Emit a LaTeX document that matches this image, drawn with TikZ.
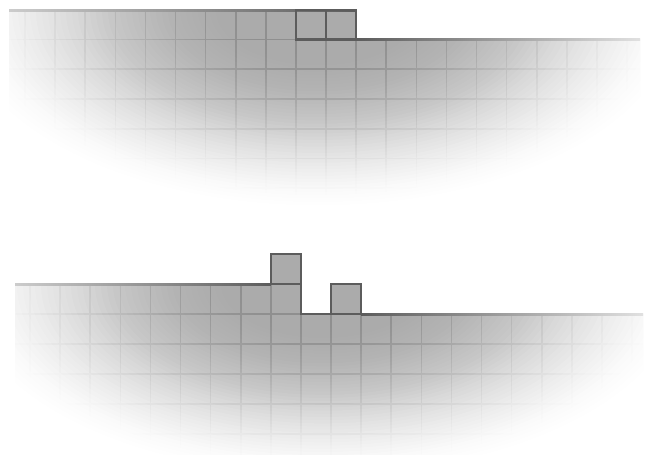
\documentclass[tikz,border=0pt]{standalone}
\definecolor{cellgray}{gray}{0.67}
\definecolor{gridgray}{gray}{0.56}
\definecolor{edgegray}{gray}{0.36}
\tikzset{
  cellfill/.style={fill=cellgray, draw=none},
  gridl/.style={draw=gridgray, line width=1.6pt},
  profile/.style={draw=edgegray, line width=2pt, line join=miter},
  hicell/.style={draw=edgegray, line width=2.2pt, line join=miter}
}
% white vignette: centre (#1,#2), radii (#3,#4), region (#5,#6)-(#7,#8)
\newcommand\myvignette[8]{%
  \begin{scope}
  \clip (#5,#6) rectangle (#7,#8);
  \foreach \k in {1,...,60}{%
    \pgfmathsetmacro\rcur{\k/60}%
    \pgfmathsetmacro\rprev{(\k-1)/60}%
    \pgfmathsetmacro\ocur{0.5*(1+cos(180*(\rcur^1.3)))}%
    \pgfmathsetmacro\oprev{0.5*(1+cos(180*(\rprev^1.3)))}%
    \pgfmathsetmacro\aa{1-\ocur/\oprev}%
    \ifnum\k=60 \def\aa{1}\fi
    \fill[white, opacity=\aa, even odd rule] (-50,-50) rectangle (700,520) (#1,#2) ellipse [x radius={#3*\rcur}, y radius={#4*\rcur}];
  }%
  \end{scope}
}
\begin{document}
\begin{tikzpicture}[x=1pt,y=-1pt]
\useasboundingbox (0,0) rectangle (649,455);
% ---------- top diagram ----------
\path[cellfill] (9,10) -- (356.1,10) -- (356.1,39.5) -- (640,39.5) -- (640,215) -- (9,215) -- cycle;
\begin{scope}
  \clip (9,10) -- (356.1,10) -- (356.1,39.5) -- (640,39.5) -- (640,215) -- (9,215) -- cycle;
  \foreach \i in {0,...,20} \draw[gridl] ({25+30.1*\i},0) -- ++(0,225);
  \foreach \j in {1,...,7} \draw[gridl] (0,{9.75+29.75*\j}) -- ++(660,0);
\end{scope}
\myvignette{318}{10}{360}{195}{-2}{-2}{651}{228}
\shade[left color=black!20, middle color=black!50, right color=edgegray] (9,9) rectangle (356.1,11);
\shade[left color=edgegray, middle color=black!48, right color=black!12] (356.1,38.5) rectangle (640,40.5);
\draw[profile] (355,10) -- (356.1,10) -- (356.1,39.5) -- (357.1,39.5);
\draw[hicell] (295.9,10) rectangle (356.1,39.5) (326,10) -- (326,39.5);
% ---------- bottom diagram ----------
\path[cellfill] (15,284) -- (270.8,284) -- (270.8,254) -- (300.9,254) -- (300.9,314) -- (331,314) -- (331,284) -- (361.1,284) -- (361.1,314) -- (643,314) -- (643,475) -- (15,475) -- cycle;
\begin{scope}
  \clip (15,284) -- (270.8,284) -- (270.8,254) -- (300.9,254) -- (300.9,314) -- (331,314) -- (331,284) -- (361.1,284) -- (361.1,314) -- (643,314) -- (643,475) -- (15,475) -- cycle;
  \foreach \i in {0,...,20} \draw[gridl] ({30+30.1*\i},240) -- ++(0,240);
  \foreach \j in {1,...,7} \draw[gridl] (0,{254+30*\j}) -- ++(660,0);
\end{scope}
\myvignette{323}{284}{360}{190}{-2}{228}{651}{457}
\shade[left color=black!20, middle color=black!45, right color=edgegray] (15,283) rectangle (270.8,285);
\shade[left color=edgegray, middle color=black!48, right color=black!12] (361.1,313) rectangle (643,315);
\draw[profile] (269.8,284) -- (270.8,284) -- (270.8,254) -- (300.9,254) -- (300.9,314) -- (331,314) -- (331,284) -- (361.1,284) -- (361.1,314) -- (362.1,314);
\draw[hicell] (270.8,254) rectangle (300.9,284);
\draw[hicell] (331,284) rectangle (361.1,314);
\end{tikzpicture}
\end{document}
